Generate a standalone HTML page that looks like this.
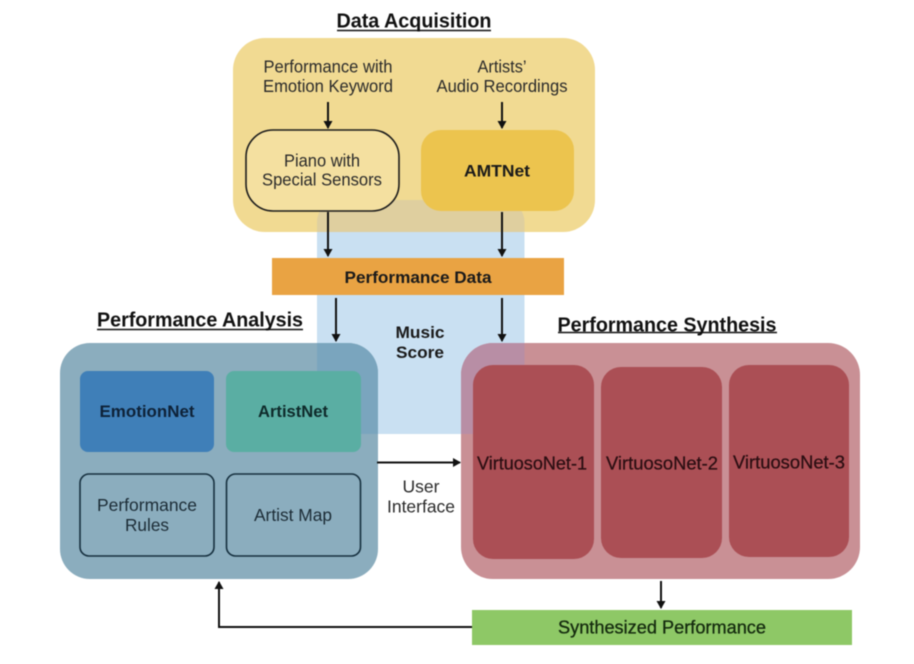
<!DOCTYPE html>
<html><head><meta charset="utf-8"><style>
html,body{margin:0;padding:0;background:#fff;width:914px;height:664px;overflow:hidden}
svg{display:block;filter:blur(0.4px)}
text{font-family:"Liberation Sans",sans-serif;text-anchor:middle;fill:#2a2a2a;font-size:17.5px}
.b{font-weight:bold;fill:#1a1a1a;font-size:17px}
.t{font-weight:bold;font-size:20px;fill:#111}
.l{stroke:#111;stroke-width:2;fill:none}
.u{stroke:#111;stroke-width:1.6}
</style></head><body>
<svg width="914" height="664" viewBox="0 0 914 664" xmlns="http://www.w3.org/2000/svg">
<defs>
<clipPath id="c"><path d="M317 434V222a22 22 0 0 1 22-22H502.500a22 22 0 0 1 22 22V434Z"/></clipPath>
<marker id="a" markerWidth="10" markerHeight="10" refX="7" refY="5" orient="auto" markerUnits="userSpaceOnUse"><path d="M0 0.500L8 5L0 9.500Z" fill="#111"/></marker>
</defs>
<path d="M317 434V222a22 22 0 0 1 22-22H502.500a22 22 0 0 1 22 22V434Z" fill="#c9e0f2"/>
<rect x="233" y="38" width="362" height="194" rx="32" fill="#f1da92"/>
<rect x="60" y="343" width="318" height="236" rx="30" fill="#8badbe"/>
<rect x="461" y="343" width="399" height="236" rx="32" fill="#c99095"/>
<g clip-path="url(#c)">
<rect x="233" y="38" width="362" height="194" rx="32" fill="#dfcf9f"/>
<rect x="60" y="343" width="318" height="236" rx="30" fill="#7aa5be"/>
<rect x="461" y="343" width="399" height="236" rx="32" fill="#b88ea5"/>
</g>
<rect x="246" y="130" width="153" height="81" rx="27" fill="#f4e0a0" stroke="#1c1c1c" stroke-width="1.600"/>
<rect x="421" y="130" width="153" height="81" rx="20" fill="#ecc44e"/>
<rect x="272" y="258" width="292" height="37" fill="#e9a343"/>
<rect x="80" y="371" width="134" height="81" rx="8" fill="#3f7fb8"/>
<rect x="226" y="371" width="135" height="81" rx="8" fill="#5aaea3"/>
<rect x="80" y="474" width="134" height="82" rx="9" fill="#8badbe" stroke="#16303f" stroke-width="1.600"/>
<rect x="226.500" y="474" width="134" height="82" rx="9" fill="#8badbe" stroke="#16303f" stroke-width="1.600"/>
<rect x="473" y="365" width="121" height="194" rx="20" fill="#ab4f55"/>
<rect x="601" y="367" width="121" height="191" rx="20" fill="#ab4f55"/>
<rect x="729" y="365" width="120" height="192" rx="20" fill="#ab4f55"/>
<rect x="472" y="610" width="380" height="35" fill="#8ec866"/>

<path class="l" marker-end="url(#a)" d="M328 102V128"/>
<path class="l" marker-end="url(#a)" d="M502 102V128"/>
<path class="l" marker-end="url(#a)" d="M328 212V256"/>
<path class="l" marker-end="url(#a)" d="M502 212V256"/>
<path class="l" marker-end="url(#a)" d="M336 298V341"/>
<path class="l" marker-end="url(#a)" d="M502 298V341"/>
<path class="l" marker-end="url(#a)" d="M377 462.500H460"/>
<path class="l" marker-end="url(#a)" d="M661 581V608"/>
<path class="l" marker-end="url(#a)" d="M472 627H219V582"/>

<text class="t" x="414" y="27.500" textLength="155" lengthAdjust="spacingAndGlyphs">Data Acquisition</text>
<line class="u" x1="337" x2="491" y1="30.500" y2="30.500"/>
<text class="t" x="200" y="326.500" textLength="206" lengthAdjust="spacingAndGlyphs">Performance Analysis</text>
<line class="u" x1="97" x2="303" y1="329.500" y2="329.500"/>
<text class="t" x="667" y="331.500" textLength="219" lengthAdjust="spacingAndGlyphs">Performance Synthesis</text>
<line class="u" x1="558" x2="777" y1="332.500" y2="332.500"/>

<text x="328" y="72.500" textLength="129" lengthAdjust="spacingAndGlyphs">Performance with</text>
<text x="328" y="92" textLength="130" lengthAdjust="spacingAndGlyphs">Emotion Keyword</text>
<text x="502" y="72.500" textLength="49" lengthAdjust="spacingAndGlyphs">Artists’</text>
<text x="502" y="92" textLength="131" lengthAdjust="spacingAndGlyphs">Audio Recordings</text>
<text x="322" y="166.500" textLength="76" lengthAdjust="spacingAndGlyphs">Piano with</text>
<text x="322" y="185.500" textLength="120" lengthAdjust="spacingAndGlyphs">Special Sensors</text>
<text class="b" x="497" y="176.500" textLength="66" lengthAdjust="spacingAndGlyphs">AMTNet</text>
<text class="b" x="418" y="283" textLength="147" lengthAdjust="spacingAndGlyphs">Performance Data</text>
<text class="b" x="420" y="338" textLength="49" lengthAdjust="spacingAndGlyphs">Music</text>
<text class="b" x="420" y="358" textLength="48" lengthAdjust="spacingAndGlyphs">Score</text>
<text class="b" x="147" y="417" textLength="95" lengthAdjust="spacingAndGlyphs" style="fill:#0e2238">EmotionNet</text>
<text class="b" x="293" y="417" textLength="70" lengthAdjust="spacingAndGlyphs" style="fill:#0e2a2a">ArtistNet</text>
<text x="147" y="511" textLength="100" lengthAdjust="spacingAndGlyphs" style="fill:#1c2c36">Performance</text>
<text x="147" y="531" textLength="44" lengthAdjust="spacingAndGlyphs" style="fill:#1c2c36">Rules</text>
<text x="293" y="521" textLength="78" lengthAdjust="spacingAndGlyphs" style="fill:#1c2c36">Artist Map</text>
<text x="421" y="492.500" textLength="37" lengthAdjust="spacingAndGlyphs">User</text>
<text x="421" y="512.500" textLength="68" lengthAdjust="spacingAndGlyphs">Interface</text>
<text x="532" y="469.500" textLength="110" lengthAdjust="spacingAndGlyphs" style="fill:#2a0e12;font-size:18px;stroke:#2a0e12;stroke-width:.25">VirtuosoNet-1</text>
<text x="662" y="469.500" textLength="112" lengthAdjust="spacingAndGlyphs" style="fill:#2a0e12;font-size:18px;stroke:#2a0e12;stroke-width:.25">VirtuosoNet-2</text>
<text x="789" y="468.500" textLength="112" lengthAdjust="spacingAndGlyphs" style="fill:#2a0e12;font-size:18px;stroke:#2a0e12;stroke-width:.25">VirtuosoNet-3</text>
<text x="662" y="633.500" textLength="208" lengthAdjust="spacingAndGlyphs" style="fill:#142a0e;font-size:18.500px;stroke:#142a0e;stroke-width:.3">Synthesized Performance</text>
</svg>
</body></html>
